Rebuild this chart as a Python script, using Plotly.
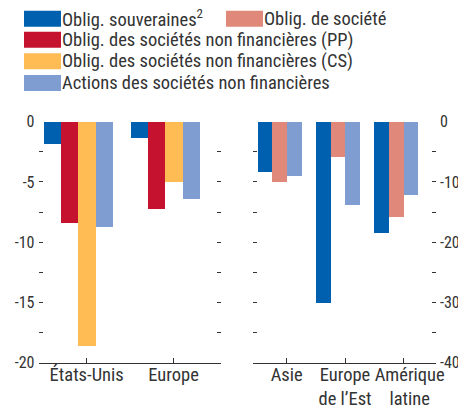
import plotly.graph_objects as go

# ---- data ----
left_cats = ["États-Unis", "Europe"]
right_cats = ["Asie", "Europe<br>de l’Est", "\u00a0\u00a0\u00a0Amérique<br>\u00a0\u00a0\u00a0latine"]

left_souv = [-1.8, -1.3]
left_pp = [-8.4, -7.2]
left_cs = [-18.6, -5.0]
left_actions = [-8.7, -6.4]

right_souv = [-8.3, -30.1, -18.4]
right_societe = [-10.0, -5.8, -15.8]
right_actions = [-9.0, -13.8, -12.1]

left_ticks = [0, -2.5, -5, -7.5, -10, -12.5, -15, -17.5, -20]
left_ticktext = ["0", " ", "-5", " ", "-10", " ", "-15", " ", "-20"]
right_ticks = [0, -5, -10, -15, -20, -25, -30, -35, -40]
right_ticktext = ["0", " ", "-10", " ", "-20", " ", "-30", " ", "-40"]

legend_names = ["Oblig. souveraines<sup>2</sup>", "Oblig. de société",
                "Oblig. des sociétés non financières (PP)",
                "Oblig. des sociétés non financières (CS)",
                "Actions des sociétés non financières"]

C_SOUV = "#0060B0"
C_SOC = "#E0887A"
C_PP = "#C4122F"
C_CS = "#FFBC55"
C_ACT = "#7F9DD1"
TXT = "#333333"
FONT = "Roboto Condensed, Liberation Sans Narrow, sans-serif"
FS_Y = 16
FS_X = 18.5
FS_LEG = 18.5

fig = go.Figure()

def bar(x, y, color, xa, ya):
    return go.Bar(x=x, y=y, marker=dict(color=color, line=dict(width=0)),
                  xaxis=xa, yaxis=ya, showlegend=False, hoverinfo="skip")

# left panel: 5 slots (souv, PP, CS, actions, société-empty)
fig.add_trace(bar(left_cats, left_souv, C_SOUV, "x", "y"))
fig.add_trace(bar(left_cats, left_pp, C_PP, "x", "y"))
fig.add_trace(bar(left_cats, left_cs, C_CS, "x", "y"))
fig.add_trace(bar(left_cats, left_actions, C_ACT, "x", "y"))
fig.add_trace(bar(left_cats, [None, None], C_SOC, "x", "y"))

# right panel: 4 slots (souv, société, actions, empty)
fig.add_trace(bar(right_cats, right_souv, C_SOUV, "x2", "y2"))
fig.add_trace(bar(right_cats, right_societe, C_SOC, "x2", "y2"))
fig.add_trace(bar(right_cats, right_actions, C_ACT, "x2", "y2"))
fig.add_trace(bar(right_cats, [None, None, None], C_PP, "x2", "y2"))

# page has an 8px body margin: figure is shifted by OFF px
OFF = 8
W, H = 466 - OFF, 408 - OFF

def px(x):
    return (x - OFF) / W

def py(y):
    return 1 - (y - OFF) / H

ydom = [py(362.5), py(121.7)]

yfont = dict(family=FONT, size=FS_Y, color=TXT)
xfont = dict(family=FONT, size=FS_X, color=TXT)
common = dict(showgrid=False, zeroline=False, fixedrange=True, automargin=False)

fig.update_layout(
    width=W, height=H,
    margin=dict(l=0, r=0, t=0, b=0),
    paper_bgcolor="white", plot_bgcolor="rgba(0,0,0,0)",
    barmode="group", bargap=0, bargroupgap=0,
    font=dict(family=FONT, size=FS_Y, color=TXT),
    xaxis=dict(domain=[px(38.5), px(221)], range=[-0.554, 1.546], showline=True,
               linecolor=TXT, linewidth=1, ticks="inside", ticklen=5, tickcolor=TXT,
               tickangle=0, tickfont=xfont, ticklabelstandoff=-5, **common),
    yaxis=dict(domain=ydom, range=[-20, 0], tickvals=left_ticks, ticktext=left_ticktext,
               ticks="inside", ticklen=4, tickcolor=TXT, mirror="ticks", showline=False,
               anchor="x", ticklabelstandoff=3, tickfont=yfont, **common),
    xaxis2=dict(domain=[px(252.7), px(436)], range=[-0.583, 2.56], showline=True,
                linecolor=TXT, linewidth=1, ticks="inside", ticklen=5, tickcolor=TXT,
                anchor="y2", tickangle=0, tickfont=xfont, ticklabelstandoff=-5, **common),
    yaxis2=dict(domain=ydom, range=[-40, 0], tickvals=right_ticks, ticktext=right_ticktext,
                ticks="inside", ticklen=4, tickcolor=TXT, mirror="ticks", showline=False,
                side="right", anchor="x2", ticklabelstandoff=3, tickfont=yfont, **common),
)

# manual legend
legend_colors = [C_SOUV, C_SOC, C_PP, C_CS, C_ACT]
legend_pos = [(24, 18.7), (226, 18.7), (24, 39.7), (24, 61.3), (24, 83)]
for name, col, (lx, ly) in zip(legend_names, legend_colors, legend_pos):
    fig.add_shape(type="rect", xref="paper", yref="paper",
                  x0=px(lx), x1=px(lx + 37), y0=py(ly + 8), y1=py(ly - 8),
                  fillcolor=col, line=dict(width=0))
    fig.add_annotation(xref="paper", yref="paper", x=px(lx + 36), y=py(ly),
                       text=name, showarrow=False, xanchor="left", yanchor="middle",
                       font=dict(family=FONT, size=FS_LEG, color=TXT))

fig.write_html("out.html")
